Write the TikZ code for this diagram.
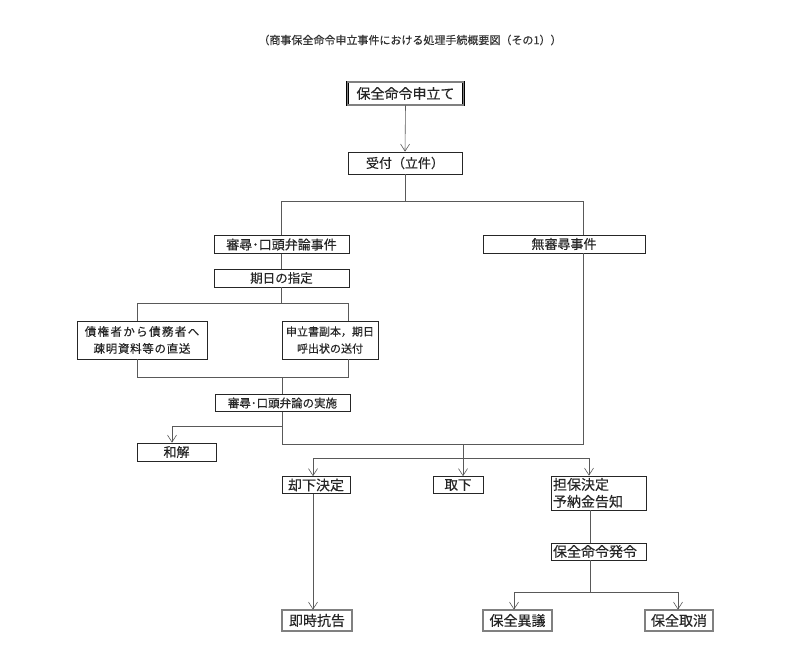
\documentclass[tikz,border=0pt]{standalone}
\usepackage{fontspec}
\newfontfamily\jp[FakeBold=0.35]{Noto Sans CJK JP}
\usetikzlibrary{arrows.meta}
\tikzset{
  box/.style={draw=black!85, line width=0.7pt, inner sep=1pt, font=\jp, text=black!85},
  dbox/.style={box, draw=black, line width=0.7pt, double=black!50, double distance=1.2pt},
  fs/.style={font=\jp\fontsize{#1}{17}\selectfont},
  fsb/.style={font=\jp\fontsize{#1}{17}\selectfont},
  ln/.style={draw=black!65, line width=0.6pt},
  arr/.style={ln, -{Straight Barb[length=7pt,width=9pt,line width=0.6pt]}},
}
\begin{document}
\begin{tikzpicture}[x=1pt,y=-1pt]
\useasboundingbox[fill=white] (0,0) rectangle (802,654);
\node[fs=11, text=black!80] (title) at (410,40) {（商事保全命令申立事件における処理手続概要図（その1））};

\node[dbox, fs=14, minimum width=116pt, minimum height=23pt] (apply) at (405.5,93.5) {保全命令申立て};
\node[box, fs=13, minimum width=114pt, minimum height=22pt] (recv) at (405,163) {受付（立件）};
\node[box, fs=13, minimum width=135pt, minimum height=18pt] (shinjin) at (281.5,244.5) {審尋･口頭弁論事件};
\node[box, fs=13, minimum width=162pt, minimum height=18pt] (mushin) at (564,244) {無審尋事件};
\node[box, fs=12.5, minimum width=135pt, minimum height=18pt] (kijitsu) at (281.5,278) {期日の指定};
\node[box, fsb=11.5, minimum width=130pt, minimum height=38pt, align=center] (sokumei) at (142,340) {\addfontfeature{LetterSpace=12}債権者から債務者へ\\\addfontfeature{LetterSpace=6}疎明資料等の直送};
\node[box, fsb=11, minimum width=96pt, minimum height=38pt, align=center] (moshi) at (330,340) {申立書副本，期日\\呼出状の送付};
\node[box, fs=11.5, minimum width=135pt, minimum height=17pt] (jisshi) at (282.5,403) {審尋･口頭弁論の実施};
\node[box, fs=13, minimum width=79pt, minimum height=18pt] (wakai) at (176.5,452) {和解};
\node[box, fs=14, minimum width=68pt, minimum height=17pt] (kyakka) at (316,485) {却下決定};
\node[box, fs=13.5, minimum width=50pt, minimum height=17pt] (tori) at (458,485) {取下};
\node[box, fs=14, minimum width=95pt, minimum height=34pt, align=left, text width=91pt] (tanpo) at (598.5,493) {担保決定\\予納金告知};
\node[box, fs=14, minimum width=95pt, minimum height=17pt, align=left, text width=91pt] (hatsu) at (598.5,551.5) {保全命令発令};
\node[dbox, fs=14, minimum width=70pt, minimum height=21pt] (sokuji) at (317,620.5) {即時抗告};
\node[dbox, fs=14, minimum width=69pt, minimum height=21pt] (igi) at (517.5,620.5) {保全異議};
\node[dbox, fs=14, minimum width=68pt, minimum height=21pt] (keshi) at (679,620.5) {保全取消};

% top
\draw[arr] (apply.south) -- (recv.north);
\coordinate (j1) at (281.5,201);
\coordinate (j2) at (583,201);
\draw[ln] (recv.south) -- (recv.south |- j1);
\draw[ln] (shinjin.north) -- (j1) -- (j2) -- (j2 |- mushin.north);
\draw[ln] (shinjin) -- (kijitsu);
% split
\coordinate (s1) at (137,303);
\coordinate (s2) at (348,303);
\draw[ln] (kijitsu.south) -- (kijitsu.south |- s1);
\draw[ln] (sokumei.north -| s1) -- (s1) -- (s2) -- (moshi.north -| s2);
\coordinate (m1) at (137,377);
\coordinate (m2) at (348,377);
\draw[ln] (sokumei.south -| m1) -- (m1) -- (m2) -- (moshi.south -| m2);
\draw[ln] (jisshi.north |- m1) -- (jisshi.north);
% after hearing
\coordinate (h1) at (583,444);
\coordinate (w1) at (172,426);
\draw[ln] (jisshi.south) -- (jisshi.south |- h1) -- (h1) -- (h1 |- mushin.south);
\draw[arr] (jisshi.south |- w1) -- (w1) -- (wakai.north -| w1);
\coordinate (t1) at (463,444);
\draw[arr] (t1) -- (tori.north -| t1);
\coordinate (k1) at (313,458);
\coordinate (k2) at (589,458);
\draw[ln] (k1) -- (k2);
\draw[arr] (k1) -- (kyakka.north -| k1);
\draw[arr] (k2) -- (tanpo.north -| k2);
\draw[arr] (kyakka.south -| k1) -- (sokuji.north -| k1);
\coordinate (p1) at (590,592);
\draw[ln] (tanpo.south -| p1) -- (hatsu.north -| p1);
\draw[ln] (hatsu.south -| p1) -- (p1);
\coordinate (i1) at (514,592);
\coordinate (i2) at (678,592);
\draw[ln] (i1) -- (i2);
\draw[arr] (i1) -- (igi.north -| i1);
\draw[arr] (i2) -- (keshi.north -| i2);
\end{tikzpicture}
\end{document}
